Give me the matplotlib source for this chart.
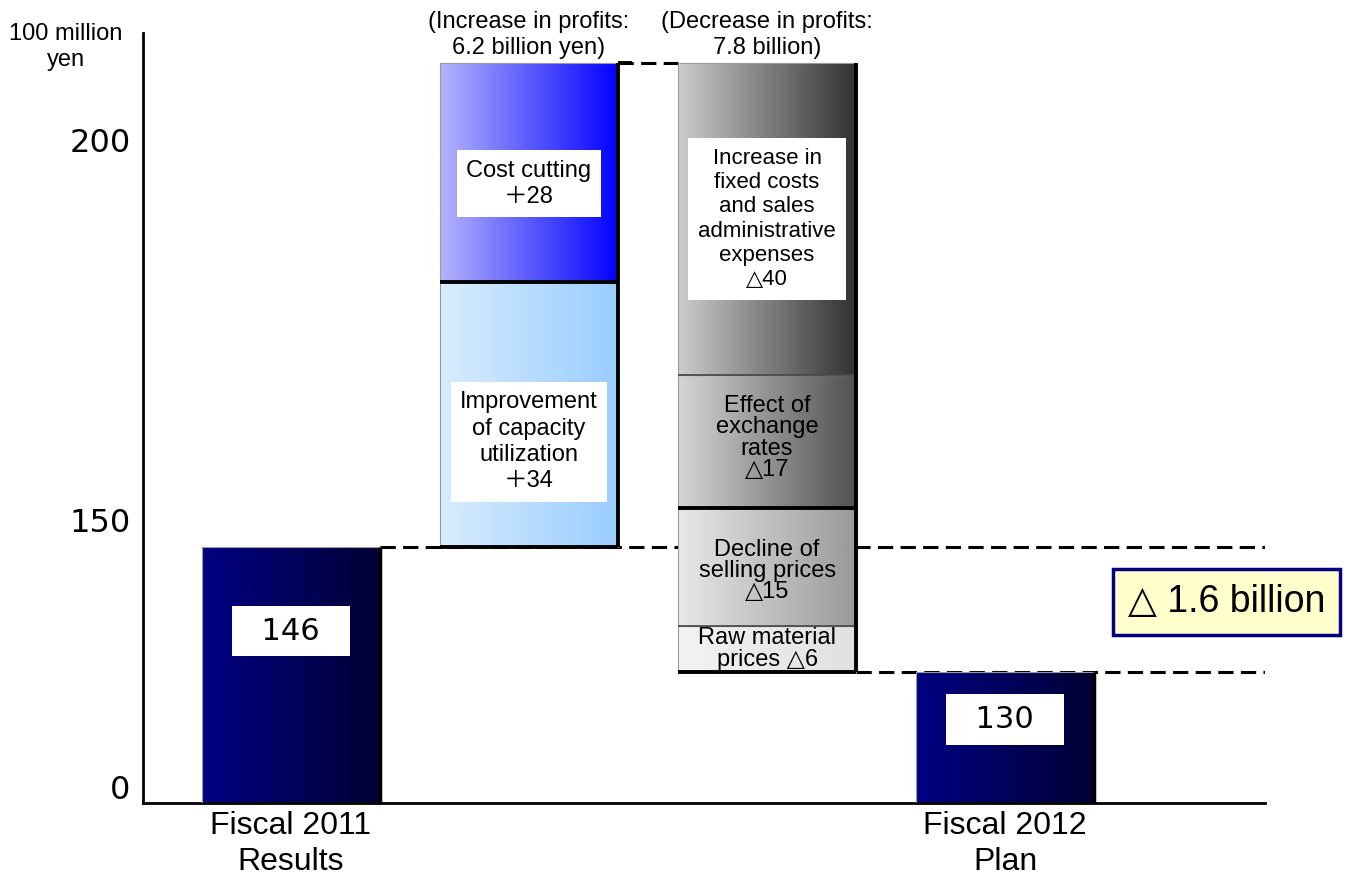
import numpy as np
import matplotlib
matplotlib.use("Agg")
import matplotlib.pyplot as plt
from matplotlib.colors import to_rgb

plt.rcParams['font.family'] = ['Liberation Sans', 'DejaVu Sans', 'Noto Sans CJK JP']

# data (100 million yen)
start_label = 'Fiscal 2011\nResults'
end_label = 'Fiscal 2012\nPlan'
start_value = 146
end_value = 130

increase_names = ['Improvement\nof capacity\nutilization', 'Cost cutting']
increase_values = [34, 28]

decrease_names = ['Increase in\nfixed costs\nand sales\nadministrative\nexpenses',
                  'Effect of\nexchange\nrates', 'Decline of\nselling prices',
                  'Raw material\nprices']
decrease_values = [40, 17, 15, 6]

y_ticks = [0, 150, 200]
increase_title = '(Increase in profits:\n6.2 billion yen)'
decrease_title = '(Decrease in profits:\n7.8 billion)'
diff_text = '△ 1.6 billion'

# styles
navy = ('#000084', '#000033')
increase_colors = [('#d8ecfd', '#99ccff'), ('#b4b4fb', '#0000ff')]
decrease_colors = [('#cdcdcd', '#303030'), ('#d6d6d6', '#505050'),
                   ('#e8e8e8', '#999999'), ('#f3f3f3', '#e0e0e0')]
decrease_joins = ['\n', '\n', '\n', ' ']
decrease_boxed = [True, False, False, False]
decrease_sizes = [16, 17, 17, 17]
increase_offsets = [-3.5, -1.5]
decrease_offsets = [0, 0.5, -0.5, 0]
total_offsets = [-10.7, -6.0]
tick_shift_pt = [9, -5, -13]   # label nudges as in the original slide

# broken value axis: compressed below 120
VB, UB, S, C = 120, 52.4, 7.82, 886


def forward(v):
    v = np.asarray(v, dtype=float)
    return np.where(v < VB, v * UB / VB, S * v - C)


def inverse(u):
    u = np.asarray(u, dtype=float)
    return np.where(u < UB, u * VB / UB, (u + C) / S)


def gradient_bar(ax, x, bottom, height, width, c_left, c_right, n=90):
    a, b = np.array(to_rgb(c_left)), np.array(to_rgb(c_right))
    t = (np.arange(n) + 0.5) / n
    cols = [tuple(a + (b - a) * k) for k in t]
    xs = x - width / 2 + t * width
    ax.bar(xs, height, width / n, bottom=bottom, color=cols, edgecolor=cols,
           linewidth=0.6, zorder=2)
    ax.bar(x, height, width, bottom=bottom, fill=False, edgecolor='#9a9a9a',
           linewidth=0.8, zorder=3)


fig = plt.figure(figsize=(13.63, 8.83), dpi=100)
ax = fig.add_axes([0.1049, 0.0906, 0.8232, 0.872])
ax.set_yscale('function', functions=(forward, inverse))

w = 0.748
xmax = 4.092
x_pos = [0, 1, 2, 3]
top = start_value + sum(increase_values)

# dashed guide lines
dash = dict(colors='black', linewidth=2.2, linestyles=(0, (5, 2.4)), zorder=1)
ax.hlines(start_value, x_pos[0] + w / 2, xmax, **dash)
ax.hlines(top, x_pos[1] + w / 2, x_pos[2] - w / 2, **dash)
ax.hlines(end_value, x_pos[2] + w / 2, xmax, **dash)

# start / end bars
for x, val, off in zip([x_pos[0], x_pos[3]], [start_value, end_value], total_offsets):
    gradient_bar(ax, x, 0, val, w, *navy)
    ax.vlines(x + w / 2, 0, val, colors='black', linewidth=2.5, zorder=4)
    ax.text(x, val + off, '  %d  ' % val, ha='center', va='center', fontsize=22,
            family=['DejaVu Sans'], zorder=6,
            bbox=dict(boxstyle='square,pad=0.35', fc='white', ec='none'))

# increases
base = start_value
for name, val, cols, off in zip(increase_names, increase_values, increase_colors, increase_offsets):
    gradient_bar(ax, x_pos[1], base, val, w, *cols)
    ax.hlines(base, x_pos[1] - w / 2, x_pos[1] + w / 2, colors='black', linewidth=2.8, zorder=4)
    ax.text(x_pos[1], base + val / 2 + off, '%s\n＋%d' % (name, val), ha='center', va='center',
            fontsize=17, linespacing=1.25, zorder=6,
            bbox=dict(boxstyle='square,pad=0.4', fc='white', ec='none'))
    base += val
ax.vlines(x_pos[1] + w / 2, start_value, top, colors='black', linewidth=2.8, zorder=4)
ax.hlines(top, x_pos[1] + w / 2, x_pos[1] + w / 2 + 0.06, colors='black', linewidth=2.8, zorder=4)

# decreases
base = top
for name, val, cols, join, boxed, fs, off in zip(decrease_names, decrease_values, decrease_colors,
                                                 decrease_joins, decrease_boxed, decrease_sizes,
                                                 decrease_offsets):
    gradient_bar(ax, x_pos[2], base - val, val, w, *cols)
    lw = 2.8 if val in (17, 6) else 1.2
    ax.hlines(base - val, x_pos[2] - w / 2, x_pos[2] + w / 2, colors='black' if lw > 2 else '#444444',
              linewidth=lw, zorder=4)
    box = dict(boxstyle='square,pad=0.45', fc='white', ec='none') if boxed else None
    ax.text(x_pos[2], base - val / 2 + off, '%s%s△%d' % (name, join, val), ha='center',
            va='center', fontsize=fs, linespacing=1.2 if boxed else 0.95, zorder=6, bbox=box)
    base -= val
ax.vlines(x_pos[2] + w / 2, end_value, top, colors='black', linewidth=2.8, zorder=4)

# column headings
for x, t in [(x_pos[1], increase_title), (x_pos[2], decrease_title)]:
    ax.annotate(t, xy=(x, 1 - 35 / 883), xycoords=('data', 'figure fraction'),
                ha='center', va='center', fontsize=17, linespacing=1.2, annotation_clip=False)

# difference box
ax.text(3.93, (start_value + end_value) / 2 + 1, diff_text, ha='center', va='center', fontsize=27,
        zorder=6, bbox=dict(boxstyle='square,pad=0.4', fc='#ffffcc', ec='#000080', lw=2.5))

# axes
ax.set_xlim(-0.622, xmax)
ax.set_ylim(0, 211.8)
ax.set_yticks(y_ticks)
ax.set_yticklabels([])
for t, dy in zip(y_ticks, tick_shift_pt):
    ax.annotate(str(t), xy=(0, t), xycoords=('axes fraction', 'data'),
                xytext=(-9, dy), textcoords='offset points', ha='right', va='center',
                family=['DejaVu Sans'], fontsize=23, annotation_clip=False)
ax.set_xticks([x_pos[0], x_pos[3]])
ax.set_xticklabels([start_label, end_label], fontsize=23, linespacing=1.25)
ax.tick_params(axis='both', length=0)
ax.tick_params(axis='x', pad=6)
for s in ['top', 'right']:
    ax.spines[s].set_visible(False)
ax.spines['left'].set_linewidth(2)
ax.spines['bottom'].set_linewidth(2)

fig.text(66 / 1363, 1 - 47 / 883, '100 million\nyen', ha='center', va='center',
         fontsize=17, linespacing=1.2)

fig.savefig('out.png', dpi=100)
